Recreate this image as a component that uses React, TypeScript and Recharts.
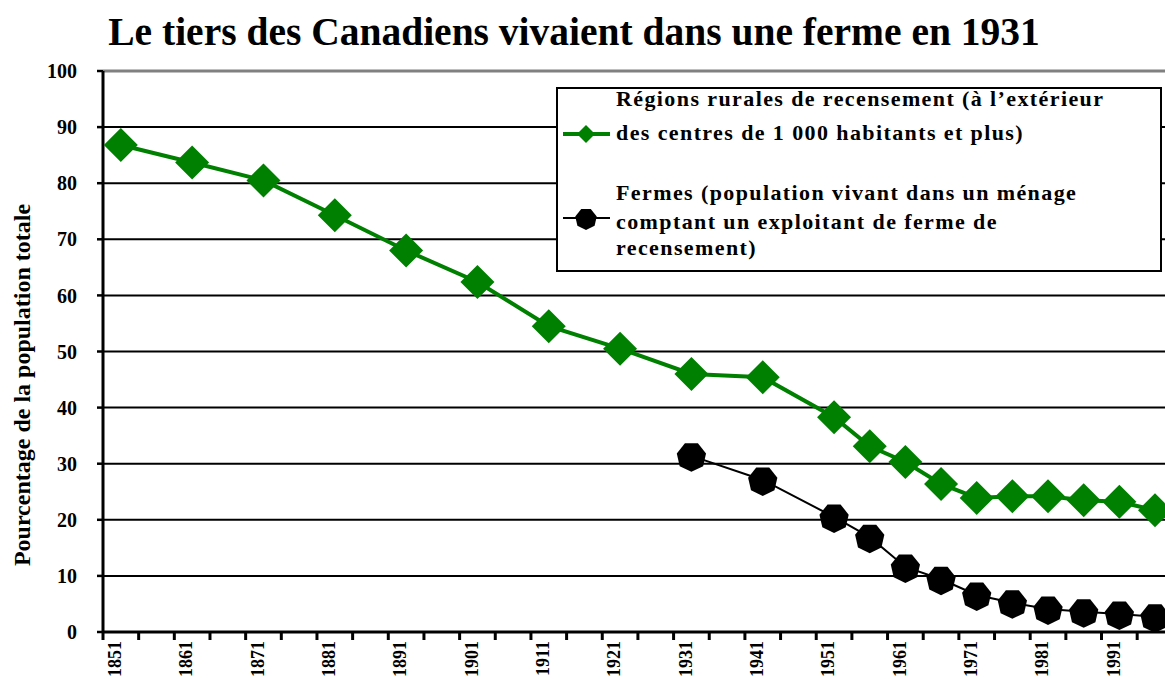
import { LineChart, Line, XAxis, YAxis, CartesianGrid, ReferenceLine } from 'recharts';

// Census years (5-year steps after 1951)
const censusYears = [
  1851, 1861, 1871, 1881, 1891, 1901, 1911, 1921, 1931, 1941,
  1951, 1956, 1961, 1966, 1971, 1976, 1981, 1986, 1991, 1996,
];

// Rural census regions, % of total population
const ruralShare = [
  86.8, 83.7, 80.5, 74.3, 68.0, 62.4, 54.5, 50.5, 46.0, 45.4,
  38.3, 33.1, 30.3, 26.4, 23.9, 24.2, 24.2, 23.5, 23.2, 21.7,
];

// Farm population, % of total population (no data before 1931)
const farmShare = [
  null, null, null, null, null, null, null, null, 31.4, 27.1,
  20.5, 16.9, 11.6, 9.4, 6.6, 5.2, 4.1, 3.6, 3.2, 2.7,
];

const decadeLabels = [
  '1851', '1861', '1871', '1881', '1891', '1901', '1911', '1921',
  '1931', '1941', '1951', '1961', '1971', '1981', '1991',
];

const yTicks = [0, 10, 20, 30, 40, 50, 60, 70, 80, 90, 100];

const FONT = '"Liberation Serif", "Times New Roman", serif';
const GREEN = '#008000';

const chartData = censusYears.map((year, i) => ({
  year,
  rural: ruralShare[i],
  farm: farmShare[i],
}));

// the axis is split in 5-year bins, tick marks sit on the bin edges
const binTicks: number[] = [];
for (let y = censusYears[0]; y <= 1996; y += 5) binTicks.push(y - 2.5);

function XTick(props: any) {
  const { x, y, payload } = props;
  const label = String(payload.value + 2.5);
  if (!decadeLabels.includes(label)) return <g />;
  const bx = x + 18;
  return (
    <text
      x={bx}
      y={y}
      transform={`rotate(-90, ${bx}, ${y})`}
      textAnchor="end"
      fontFamily={FONT}
      fontWeight="bold"
      fontSize={18}
      fill="#000"
    >
      {label}
    </text>
  );
}

function Diamond(props: any) {
  const { cx, cy, value, index } = props;
  if (value == null || cx == null) return <g key={`d-${index}`} />;
  const r = 17;
  return (
    <polygon
      key={`d-${index}`}
      points={`${cx},${cy - r} ${cx + r},${cy} ${cx},${cy + r} ${cx - r},${cy}`}
      fill={GREEN}
    />
  );
}

function heptagon(cx: number, cy: number, r: number) {
  const pts: string[] = [];
  for (let k = 0; k < 7; k++) {
    const a = Math.PI / 2 + (k * 2 * Math.PI) / 7;
    pts.push(`${cx + r * Math.cos(a)},${cy + r * Math.sin(a)}`);
  }
  return pts.join(' ');
}

function FarmDot(props: any) {
  const { cx, cy, value, index } = props;
  if (value == null || cx == null) return <g key={`f-${index}`} />;
  return <polygon key={`f-${index}`} points={heptagon(cx, cy + 1, 15)} fill="#000" />;
}

const legendText: React.CSSProperties = {
  position: 'absolute',
  left: 58,
  fontFamily: FONT,
  fontWeight: 'bold',
  fontSize: 22,
  letterSpacing: 1.4,
  lineHeight: '22px',
  whiteSpace: 'nowrap',
  color: '#000',
};

function LegendBox() {
  return (
    <div
      style={{
        position: 'absolute',
        left: 556,
        top: 87,
        width: 602,
        height: 181,
        border: '2px solid #000',
        background: '#fff',
      }}
    >
      <svg width={56} height={181} style={{ position: 'absolute', left: 0, top: 0 }}>
        <line x1={5} x2={52} y1={45} y2={45} stroke={GREEN} strokeWidth={4} />
        <polygon points="28,36 37,45 28,54 19,45" fill={GREEN} />
        <line x1={5} x2={52} y1={129} y2={129} stroke="#000" strokeWidth={2} />
        <polygon points={heptagon(28, 130, 11)} fill="#000" />
      </svg>
      <div style={{ ...legendText, top: -1 }}>Régions rurales de recensement (à l’extérieur</div>
      <div style={{ ...legendText, top: 33 }}>des centres de 1 000 habitants et plus)</div>
      <div style={{ ...legendText, top: 93 }}>Fermes (population vivant dans un ménage</div>
      <div style={{ ...legendText, top: 122 }}>comptant un exploitant de ferme de</div>
      <div style={{ ...legendText, top: 148 }}>recensement)</div>
    </div>
  );
}

export default function App() {
  return (
    <div style={{ position: 'absolute', left: 0, top: 0, width: 1165, height: 679, overflow: 'hidden', background: '#fff' }}>
      <div
        style={{
          position: 'absolute',
          left: 0,
          top: 12,
          width: 1148,
          textAlign: 'center',
          fontFamily: FONT,
          fontWeight: 'bold',
          fontSize: 39.5,
          lineHeight: '40px',
          color: '#000',
        }}
      >
        Le tiers des Canadiens vivaient dans une ferme en 1931
      </div>
      <div style={{ position: 'absolute', left: 0, top: 0 }}>
        <LineChart
          width={1165}
          height={679}
          data={chartData}
          margin={{ top: 71, right: 0, bottom: 17, left: 0 }}
        >
          <CartesianGrid vertical={false} stroke="#000" strokeWidth={2} horizontalValues={yTicks} />
          <ReferenceLine y={100} stroke="#808080" strokeWidth={3} />
          <XAxis
            dataKey="year"
            type="number"
            domain={[1848.5, 1997.4]}
            ticks={binTicks}
            interval={0}
            height={30}
            allowDataOverflow
            axisLine={{ stroke: '#000', strokeWidth: 3 }}
            tickLine={{ stroke: '#000', strokeWidth: 3 }}
            tickSize={8}
            tickMargin={1}
            tick={<XTick />}
          />
          <YAxis
            type="number"
            domain={[0, 100]}
            ticks={yTicks}
            interval={0}
            width={103}
            axisLine={{ stroke: '#000', strokeWidth: 3 }}
            tickLine={{ stroke: '#000', strokeWidth: 2.5 }}
            tickSize={6}
            tickMargin={20}
            tick={{ fontFamily: FONT, fontWeight: 'bold', fontSize: 20, fill: '#000' }}
            label={{
              content: () => (
                <text
                  x={30}
                  y={385}
                  transform="rotate(-90, 30, 385)"
                  textAnchor="middle"
                  fontFamily={FONT}
                  fontWeight="bold"
                  fontSize={24}
                  fill="#000"
                >
                  Pourcentage de la population totale
                </text>
              ),
            }}
          />
          <Line
            dataKey="rural"
            stroke={GREEN}
            strokeWidth={4}
            dot={<Diamond />}
            activeDot={false}
            isAnimationActive={false}
          />
          <Line
            dataKey="farm"
            stroke="#000"
            strokeWidth={2}
            dot={<FarmDot />}
            activeDot={false}
            isAnimationActive={false}
          />
        </LineChart>
      </div>
      <LegendBox />
    </div>
  );
}
